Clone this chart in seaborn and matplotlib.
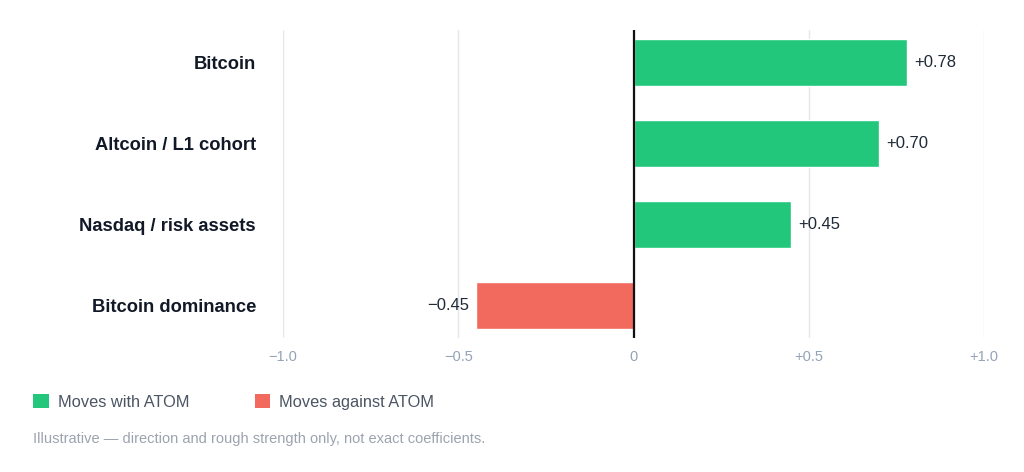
import pandas as pd
import seaborn as sns
import matplotlib.pyplot as plt
from matplotlib.patches import Patch

# Chart data
factors = ['Bitcoin', 'Altcoin / L1 cohort', 'Nasdaq / risk assets', 'Bitcoin dominance']
correlation = [0.78, 0.70, 0.45, -0.45]
direction = ['Moves with ATOM', 'Moves with ATOM', 'Moves with ATOM', 'Moves against ATOM']
value_labels = ['+0.78', '+0.70', '+0.45', '\u22120.45']
tick_values = [-1.0, -0.5, 0, 0.5, 1.0]
tick_labels = ['\u22121.0', '\u22120.5', '0', '+0.5', '+1.0']

palette = {'Moves with ATOM': '#22c77c', 'Moves against ATOM': '#f26a5e'}

data = pd.DataFrame({'factor': factors, 'corr': correlation, 'direction': direction})

sns.set_style('white')
plt.rcParams['font.family'] = ['Liberation Sans', 'DejaVu Sans']

fig = plt.figure(figsize=(10.24, 4.72), dpi=100)
ax = fig.add_axes([0.2764, 0.2839, 0.6846, 0.6525])

sns.barplot(data=data, y='factor', x='corr', hue='direction', palette=palette,
            dodge=False, width=0.57, legend=False, ax=ax, saturation=1)

ax.set_xlim(-1.0, 1.0)
ax.set_ylim(3.4, -0.4)
ax.set_xticks(tick_values)
ax.set_xticklabels(tick_labels)
ax.xaxis.grid(True, color='#e5e7eb', linewidth=1)
ax.set_axisbelow(True)
ax.axvline(0, color='#111111', linewidth=1.6, zorder=5)
for s in ax.spines.values():
    s.set_visible(False)
ax.set_xlabel('')
ax.set_ylabel('')
ax.tick_params(axis='x', length=0, pad=8.5, labelsize=10.5, labelcolor='#94a3b8')
ax.tick_params(axis='y', length=0, pad=19.5, labelsize=13.2, labelcolor='#111827')
for lbl in ax.get_yticklabels():
    lbl.set_fontweight('bold')

# value labels next to bar ends
for i, (v, txt) in enumerate(zip(correlation, value_labels)):
    off = 0.02 if v > 0 else -0.02
    ax.text(v + off, i, txt, va='center', ha='left' if v > 0 else 'right',
            fontsize=12, color='#1f2937')

handles = [Patch(facecolor=palette[k], edgecolor='none') for k in palette]
fig.legend(handles, list(palette.keys()), loc='center left', bbox_to_anchor=(0.0322, 0.148),
           ncol=2, frameon=False, fontsize=11.8, labelcolor='#4b5563',
           borderpad=0, borderaxespad=0,
           handlelength=0.95, handleheight=0.95, handletextpad=0.55, columnspacing=4.0)

fig.text(0.032, 0.07, 'Illustrative \u2014 direction and rough strength only, not exact coefficients.',
         fontsize=10.5, color='#9ca3af', va='center')

fig.savefig('out.png', dpi=100)
